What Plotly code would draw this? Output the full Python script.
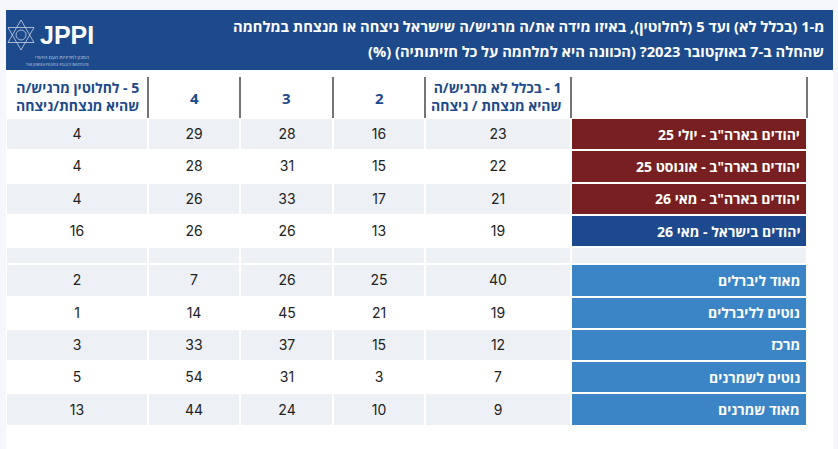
import plotly.graph_objects as go

# ---------------- data ----------------
title_lines = [
    "מ-1 (בכלל לא) ועד 5 (לחלוטין), באיזו מידה את/ה מרגיש/ה שישראל ניצחה או מנצחת במלחמה",
    "שהחלה ב-7 באוקטובר 2023? (הכוונה היא למלחמה על כל חזיתותיה) (%)",
]
col_headers = [
    "5 - לחלוטין מרגיש/ה<br>שהיא מנצחת/ניצחה",
    "4",
    "3",
    "2",
    "1 - בכלל לא מרגיש/ה<br>שהיא מנצחת / ניצחה",
]
row_labels = [
    'יהודים בארה"ב - יולי 25',
    'יהודים בארה"ב - אוגוסט 25',
    'יהודים בארה"ב - מאי 26',
    "יהודים בישראל - מאי 26",
    "",
    "מאוד ליברלים",
    "נוטים לליברלים",
    "מרכז",
    "נוטים לשמרנים",
    "מאוד שמרנים",
]
# values per answer (1..5), one entry per row (None = spacer row)
val_1 = [23, 22, 21, 19, None, 40, 19, 12, 7, 9]
val_2 = [16, 15, 17, 13, None, 25, 21, 15, 3, 10]
val_3 = [28, 31, 33, 26, None, 26, 45, 37, 31, 24]
val_4 = [29, 28, 26, 26, None, 7, 14, 33, 54, 44]
val_5 = [4, 4, 4, 16, None, 2, 1, 3, 5, 13]
row_group = ["us", "us", "us", "il", "gap", "pol", "pol", "pol", "pol", "pol"]

# ---------------- styles ----------------
FONT = "Open Sans, Liberation Sans, DejaVu Sans, sans-serif"
NUM_FONT = "Inter, Open Sans, sans-serif"
PAGE_BG = "#f6f7fc"
NAVY = "#1c4a8b"
GRAY = "#edf0f5"
group_colors = {"us": "#771f21", "il": "#1d4a8e", "gap": GRAY, "pol": "#3b85c7"}
palette = ["#ffffff", GRAY, "#771f21", "#1d4a8e", "#3b85c7"]

W, H = 838, 449
col_edges = [6, 148, 240, 333, 425, 571, 807]
header_top, header_bottom = 70, 118
row_h, gap_h = 32.3, 17

def rtl(s):
    return "<br>".join("\u202b" + p + "\u202c" for p in s.split("<br>"))

# row edges
y_edges = [header_bottom]
for g in row_group:
    y_edges.append(y_edges[-1] + (gap_h if g == "gap" else row_h))

cols_vals = [val_5, val_4, val_3, val_2, val_1]
n_rows = len(row_labels)
z, text = [], []
for r in range(n_rows):
    base = 1 if (r % 2 == 0) else 0
    if row_group[r] == "gap":
        base = 1
    if r >= 5:
        base = 1 if ((r - 5) % 2 == 0) else 0
    lab_code = palette.index(group_colors[row_group[r]])
    z.append([base + 0.5] * 5 + [lab_code + 0.5])
    text.append([("" if c[r] is None else str(c[r])) for c in cols_vals] + [""])

n = len(palette)
cscale = []
for i, c in enumerate(palette):
    cscale += [[i / n, c], [(i + 1) / n, c]]

fig = go.Figure()
fig.add_trace(go.Heatmap(
    x=col_edges, y=y_edges, z=z, text=text, texttemplate="%{text}",
    textfont=dict(family=NUM_FONT, size=14, color="#222222"),
    colorscale=cscale, zmin=0, zmax=n, showscale=False, hoverinfo="skip",
    xgap=2, ygap=2,
))

shapes = [
    dict(type="rect", xref="x", yref="y", x0=6, x1=833, y0=70, y1=H,
         fillcolor="#ffffff", line_width=0, layer="below"),
    dict(type="rect", xref="x", yref="y", x0=6, x1=833, y0=10, y1=70,
         fillcolor=NAVY, line_width=0, layer="below"),
]
for xe in col_edges[1:]:
    shapes.append(dict(type="line", xref="x", yref="y", x0=xe, x1=xe, y0=77, y1=header_bottom,
                       line=dict(color="#2b2b2b", width=1.3)))
# JPPI star of David
cx, cy, rr = 21, 35, 15
shapes.append(dict(type="path", xref="x", yref="y",
                   path=f"M {cx},{cy-rr} L {cx+rr*0.866},{cy+rr*0.5} L {cx-rr*0.866},{cy+rr*0.5} Z",
                   line=dict(color="#c9d3e6", width=0.8)))
shapes.append(dict(type="path", xref="x", yref="y",
                   path=f"M {cx},{cy+rr} L {cx+rr*0.866},{cy-rr*0.5} L {cx-rr*0.866},{cy-rr*0.5} Z",
                   line=dict(color="#c9d3e6", width=0.8)))
shapes.append(dict(type="circle", xref="x", yref="y", x0=cx-5, x1=cx+5, y0=cy-5, y1=cy+5,
                   line=dict(color="#c9d3e6", width=0.8)))

ann = []
ann.append(dict(x=826, y=26, text="<b>" + rtl(title_lines[0]) + "</b>", xanchor="right", yanchor="middle",
                font=dict(family=FONT, size=14.7, color="#ffffff"), showarrow=False, xref="x", yref="y"))
ann.append(dict(x=826, y=51, text="<b>" + rtl(title_lines[1]) + "</b>", xanchor="right", yanchor="middle",
                font=dict(family=FONT, size=14.7, color="#ffffff"), showarrow=False, xref="x", yref="y"))
# logo text
ann.append(dict(x=38, y=35, text="<b>JPPI</b>", xanchor="left", yanchor="middle",
                font=dict(family="Liberation Sans, Arial, sans-serif", size=25, color="#ffffff"),
                showarrow=False, xref="x", yref="y"))
ann.append(dict(x=91, y=57, text=rtl("המכון למדיניות העם היהודי"), xanchor="right", yanchor="middle",
                font=dict(family=FONT, size=5, color="#c9d3e6"), showarrow=False, xref="x", yref="y"))
ann.append(dict(x=91, y=64, text="THE JEWISH PEOPLE POLICY INSTITUTE", xanchor="right", yanchor="middle",
                font=dict(family=FONT, size=3.5, color="#c9d3e6"), showarrow=False, xref="x", yref="y"))

# column headers
hy = (header_top + header_bottom) / 2 + 2.5
for i, h in enumerate(col_headers):
    x0, x1 = col_edges[i], col_edges[i + 1]
    if "<br>" in h:
        ann.append(dict(x=x1 - 7, y=hy, text="<b>" + rtl(h) + "</b>", xanchor="right", yanchor="middle",
                        align="right", font=dict(family=FONT, size=14, color=NAVY),
                        showarrow=False, xref="x", yref="y"))
    else:
        ann.append(dict(x=(x0 + x1) / 2, y=hy + 1, text="<b>" + h + "</b>", xanchor="center", yanchor="middle",
                        font=dict(family=FONT, size=15, color=NAVY), showarrow=False, xref="x", yref="y"))

# row labels
for r, lab in enumerate(row_labels):
    if not lab:
        continue
    ym = (y_edges[r] + y_edges[r + 1]) / 2
    ann.append(dict(x=col_edges[-1] - 5, y=ym, text="<b>" + rtl(lab) + "</b>", xanchor="right",
                    yanchor="middle", font=dict(family=FONT, size=14, color="#ffffff"),
                    showarrow=False, xref="x", yref="y"))

fig.update_layout(
    width=W, height=H, margin=dict(l=0, r=0, t=0, b=0),
    paper_bgcolor=PAGE_BG, plot_bgcolor="rgba(0,0,0,0)",
    xaxis=dict(range=[0, W], visible=False, fixedrange=True),
    yaxis=dict(range=[H, 0], visible=False, fixedrange=True),
    shapes=shapes, annotations=ann, showlegend=False,
)
fig.write_html("out.html", config={"displayModeBar": False},
               post_script="document.body.style.margin='0';document.body.style.padding='0';"
                           "document.body.style.overflow='hidden';")
